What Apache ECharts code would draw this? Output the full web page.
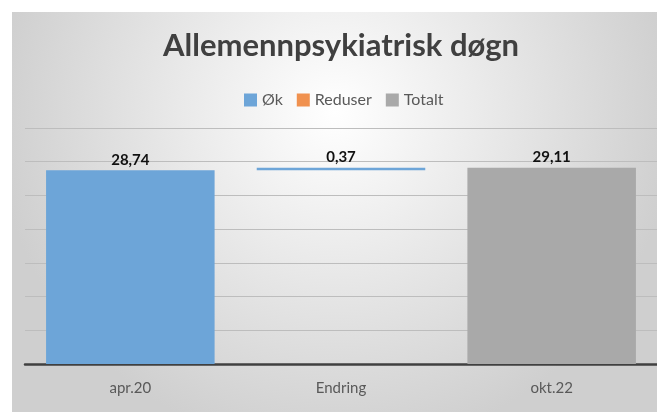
<!DOCTYPE html>
<html><head><meta charset="utf-8">
<script src="https://cdn.jsdelivr.net/npm/echarts@6/dist/echarts.min.js"></script>
<style>html,body{margin:0;padding:0;background:#fff;}#c{position:absolute;left:12px;top:12px;width:645px;height:400px;}</style>
</head><body><div id="c"></div>
<script>
const categories = ['apr.20', 'Endring', 'okt.22'];
const baseValues = [0, 28.74, 0];
const okValues = [28.74, 0.37, '-'];
const reduserValues = ['-', '-', '-'];
const totaltValues = ['-', '-', 29.11];
const yTicks = [0, 5, 10, 15, 20, 25, 30, 35];

const fmt = p => String(p.value).replace('.', ',');
const chart = echarts.init(document.getElementById('c'));
const font = 'Lato, "Open Sans", sans-serif';
chart.setOption({
  backgroundColor: {
    type: 'radial', x: 0.5, y: 0.25, r: 0.85,
    colorStops: [{offset: 0, color: '#ffffff'}, {offset: 1, color: '#cfcfcf'}]
  },
  title: {
    text: 'Allemennpsykiatrisk døgn', left: 146, top: 13,
    textStyle: {fontFamily: font, fontSize: 31, fontWeight: 'bold', color: '#404040'}
  },
  legend: {
    top: 75, left: 227, itemWidth: 13, itemHeight: 13, itemGap: 14, icon: 'rect',
    data: ['Øk', 'Reduser', 'Totalt'],
    textStyle: {fontFamily: font, fontSize: 16, color: '#595959'}
  },
  grid: {left: 13, right: 0, top: 116, bottom: 48},
  xAxis: {
    type: 'category', data: categories,
    axisLine: {lineStyle: {color: '#404040', width: 2.5}},
    axisTick: {show: false},
    axisLabel: {fontFamily: font, fontSize: 15, color: '#595959', margin: 17}
  },
  yAxis: {
    type: 'value', min: yTicks[0], max: yTicks[yTicks.length - 1], interval: 5,
    axisLabel: {show: false}, axisLine: {show: false}, axisTick: {show: false},
    splitLine: {lineStyle: {color: '#bdbdbd', width: 1}}
  },
  series: [
    {name: 'base', type: 'bar', stack: 'w', data: baseValues, barCategoryGap: '20%',
     itemStyle: {color: 'transparent'}, silent: true},
    {name: 'Øk', type: 'bar', stack: 'w', data: okValues,
     itemStyle: {color: '#6da5d8'},
     label: {show: true, position: 'top', formatter: fmt, fontFamily: font, fontSize: 15, fontWeight: 'bold', color: '#111', distance: 3}},
    {name: 'Reduser', type: 'bar', stack: 'w', data: reduserValues,
     itemStyle: {color: '#f0914f'}},
    {name: 'Totalt', type: 'bar', stack: 'w', data: totaltValues,
     itemStyle: {color: '#a9a9a9'},
     label: {show: true, position: 'top', formatter: fmt, fontFamily: font, fontSize: 15, fontWeight: 'bold', color: '#111', distance: 3}}
  ]
});
</script></body></html>
